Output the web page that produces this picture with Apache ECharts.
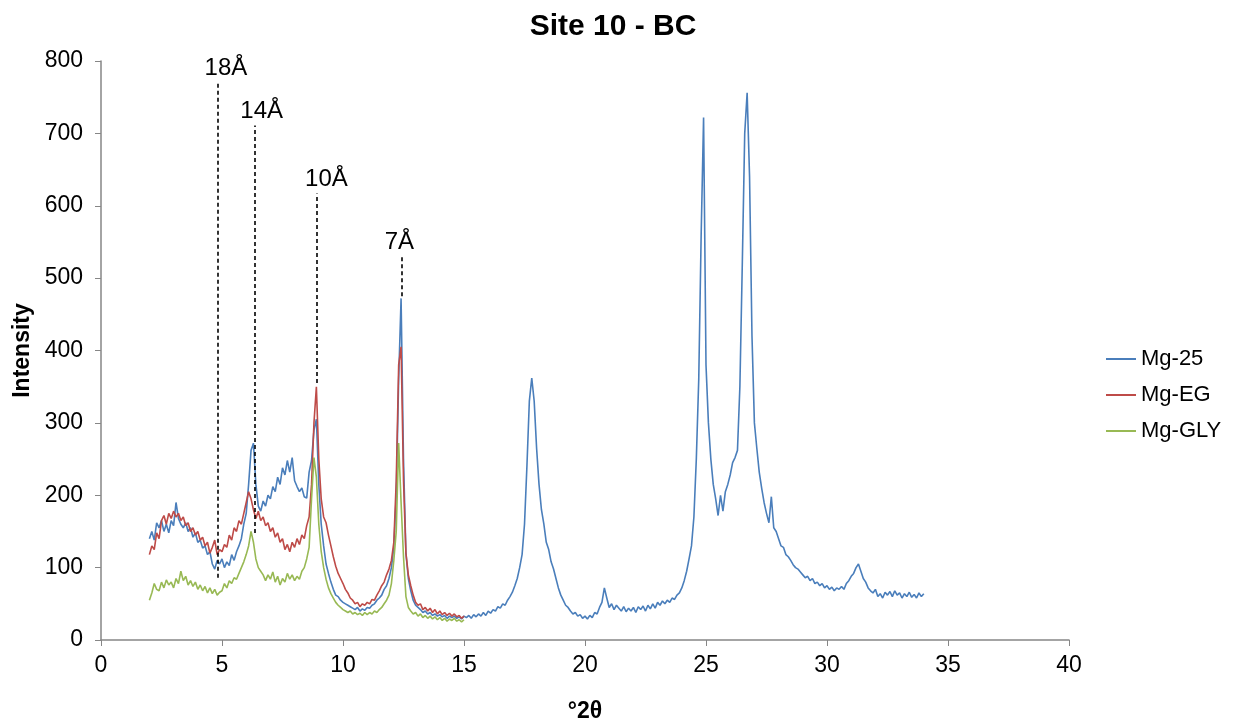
<!DOCTYPE html>
<html><head><meta charset="utf-8">
<script src="https://cdn.jsdelivr.net/npm/echarts@6/dist/echarts.min.js"></script>
<style>html,body{margin:0;padding:0;background:#fff}#c{width:1241px;height:725px}</style>
</head><body><div id="c"></div>
<script>
// °2θ sampling of the scans
const scanStart = 2.0;
const scanStep = 0.1;
const xTicks = [0,5,10,15,20,25,30,35,40];
const yTicks = [0,100,200,300,400,500,600,700,800];

// Mg-25 intensity, 2.0 – 34.0 °2θ
const mg25 = [
140,150,138,162,155,165,150,160,148,165,   // 2
158,190,168,160,155,162,150,155,142,148,   // 3
135,138,127,130,118,122,105,98,110,105,    // 4
112,100,108,103,118,110,122,130,140,160,   // 5
175,215,262,272,215,185,178,192,185,200,   // 6
195,212,205,225,215,238,228,248,232,252,   // 7
220,212,205,210,198,196,232,248,290,305,   // 8
215,160,130,105,92,80,70,62,60,55,         // 9
52,50,48,46,44,42,45,40,43,41,             // 10
45,44,48,50,55,58,62,70,75,85,             // 11
100,128,200,360,472,250,120,85,68,55,      // 12
48,45,42,38,40,36,38,34,36,33,             // 13
35,32,34,30,33,31,33,30,32,29,             // 14
33,31,34,30,35,32,36,33,38,34,             // 15
40,37,42,40,46,44,50,48,55,60,             // 16
66,75,85,100,118,160,240,330,362,330,      // 17
265,215,180,160,135,125,108,98,85,72,      // 18
62,55,48,45,40,36,38,33,35,30,             // 19
33,29,34,31,38,36,45,52,72,58,             // 20
45,50,42,48,44,40,46,39,44,40,             // 21
45,38,46,42,47,40,48,43,50,44,             // 22
52,48,54,50,55,52,58,56,62,65,             // 23
72,82,95,112,130,170,250,360,560,722,      // 24
380,300,250,215,195,172,200,178,205,215,   // 25
228,245,252,262,350,520,700,756,640,420,   // 26
300,265,232,210,190,175,162,198,155,150,   // 27
140,130,128,118,115,110,104,100,98,94,     // 28
90,86,88,82,85,78,80,75,78,72,             // 29
75,70,73,68,72,70,74,70,78,82,             // 30
88,92,100,105,95,85,80,72,68,65,           // 31
70,60,64,58,66,62,67,60,68,62,             // 32
65,58,64,60,66,59,63,58,65,60,             // 33
64                                         // 34
];

// Mg-EG intensity, 2.0 – 15.0 °2θ
const mgEG = [
118,130,125,148,140,165,172,160,175,168,   // 2
178,170,175,165,170,158,162,150,155,145,   // 3
150,138,142,130,135,120,128,138,118,125,   // 4
122,132,128,145,138,155,150,165,160,175,   // 5
190,205,195,180,168,178,165,170,158,162,   // 6
150,155,142,148,135,140,125,132,122,135,   // 7
128,140,132,145,140,158,170,215,300,350,   // 8
250,195,170,162,145,130,115,102,92,85,     // 9
78,70,65,58,55,50,52,46,50,48,             // 10
52,50,56,55,62,68,75,80,90,98,             // 11
110,135,220,380,405,220,120,90,75,62,      // 12
52,48,50,42,45,40,44,38,42,36,             // 13
40,35,38,34,37,33,36,32,34,30,             // 14
33                                         // 15
];

// Mg-GLY intensity, 2.0 – 15.0 °2θ
const mgGLY = [
55,65,78,70,68,80,72,83,76,80,             // 2
72,85,78,95,82,88,76,82,74,80,             // 3
70,76,68,74,65,72,64,70,62,66,             // 4
68,78,72,82,78,86,84,92,100,108,           // 5
118,130,150,135,112,100,95,90,82,90,       // 6
84,94,80,88,76,85,80,92,84,90,             // 7
82,88,84,95,100,112,128,195,252,225,       // 8
160,122,100,84,72,64,58,52,48,45,          // 9
42,40,38,40,36,38,35,37,34,38,             // 10
35,38,36,40,38,42,45,50,55,62,             // 11
78,110,150,272,190,115,60,45,40,36,        // 12
38,33,36,31,34,30,33,29,32,28,             // 13
31,27,30,26,29,27,30,26,28,25,             // 14
28                                         // 15
];

// d-spacing reference lines
const peakLabels = ['18Å','14Å','10Å','7Å'];
const peakPos    = [4.83, 6.35, 8.9, 12.41];
const peakBottom = [86, 148, 355, 475];
const peakTop    = [770, 711, 617, 530];

function toPairs(arr){ return arr.map((v,i)=>[+(scanStart + i*scanStep).toFixed(2), v]); }

const FONT = 'Liberation Sans, Arial, sans-serif';
const labelShift = {'18Å':[8,0], '14Å':[7,0], '10Å':[10,0], '7Å':[-2,0]};
const chart = echarts.init(document.getElementById('c'));

const markLineData = peakLabels.map((lab,i)=>[
  {coord:[peakPos[i], peakBottom[i]]},
  {coord:[peakPos[i], peakTop[i]], label:{formatter:lab, offset:labelShift[lab]}}
]);

chart.setOption({
  animation:false,
  backgroundColor:'#fff',
  title:{text:'Site 10 - BC', left:608, top:7, textAlign:'center',
    textStyle:{fontFamily:FONT, fontWeight:'bold', fontSize:30, color:'#000'}},
  legend:{orient:'vertical', left:1101, top:343, itemGap:14, itemWidth:30, itemHeight:2,
    icon:'rect',
    textStyle:{fontFamily:FONT, fontSize:22, color:'#000'},
    data:['Mg-25','Mg-EG','Mg-GLY']},
  grid:{left:101, right:172, top:61, bottom:85, containLabel:false, outerBoundsMode:'none'},
  xAxis:{type:'value', min:0, max:40, interval:5,
    name:'°2θ', nameLocation:'middle', nameGap:60,
    nameTextStyle:{fontFamily:FONT, fontWeight:'bold', fontSize:23, color:'#000'},
    axisLine:{show:true, lineStyle:{color:'#868686', width:1.5}},
    axisTick:{show:true, length:6, lineStyle:{color:'#868686'}},
    axisLabel:{fontFamily:FONT, fontSize:23, color:'#000', margin:14},
    splitLine:{show:false}},
  yAxis:{type:'value', min:0, max:800, interval:100,
    name:'Intensity', nameLocation:'middle', nameGap:67,
    nameTextStyle:{fontFamily:FONT, fontWeight:'bold', fontSize:23, color:'#000'},
    axisLine:{show:true, lineStyle:{color:'#868686', width:1.5}},
    axisTick:{show:true, length:6, lineStyle:{color:'#868686'}},
    axisLabel:{fontFamily:FONT, fontSize:23, color:'#000', margin:18},
    splitLine:{show:false}},
  series:[
    {name:'Mg-25', type:'line', data:toPairs(mg25), showSymbol:false, symbol:'none',
      lineStyle:{color:'#4A7EBB', width:1.6}, itemStyle:{color:'#4A7EBB'}, z:2,
      markLine:{silent:true, symbol:['none','none'],
        lineStyle:{color:'#000', type:[4,3], width:1.6},
        label:{show:true, position:'end', distance:2, fontFamily:FONT, fontSize:24, color:'#000'},
        data:markLineData}},
    {name:'Mg-EG', type:'line', data:toPairs(mgEG), showSymbol:false, symbol:'none',
      lineStyle:{color:'#BE4B48', width:1.6}, itemStyle:{color:'#BE4B48'}, z:3},
    {name:'Mg-GLY', type:'line', data:toPairs(mgGLY), showSymbol:false, symbol:'none',
      lineStyle:{color:'#98B954', width:1.6}, itemStyle:{color:'#98B954'}, z:4}
  ]
});
</script></body></html>
